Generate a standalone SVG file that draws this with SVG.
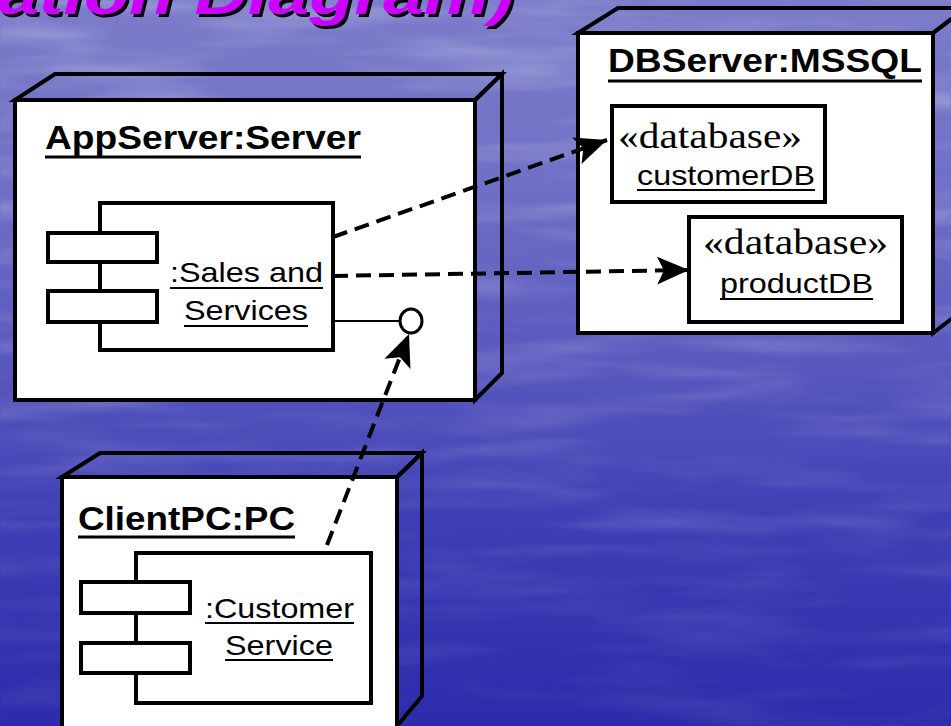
<svg xmlns="http://www.w3.org/2000/svg" width="951" height="726" viewBox="0 0 951 726">
  <defs>
    <linearGradient id="bg" x1="0" y1="0" x2="0" y2="1">
      <stop offset="0" stop-color="#7c7cca"/>
      <stop offset="0.25" stop-color="#7070c6"/>
      <stop offset="0.5" stop-color="#5858be"/>
      <stop offset="0.72" stop-color="#3e3eb5"/>
      <stop offset="1" stop-color="#2c2cac"/>
    </linearGradient>
    <linearGradient id="fade" x1="0" y1="0" x2="0" y2="1">
      <stop offset="0" stop-color="#fff" stop-opacity="1"/>
      <stop offset="0.45" stop-color="#fff" stop-opacity="0.7"/>
      <stop offset="1" stop-color="#fff" stop-opacity="0.25"/>
    </linearGradient>
    <mask id="streak-mask">
      <rect width="951" height="726" fill="url(#fade)"/>
    </mask>
    <filter id="streaks" x="0" y="0" width="100%" height="100%">
      <feTurbulence type="fractalNoise" baseFrequency="0.005 0.045" numOctaves="3" seed="7" result="n"/>
      <feColorMatrix in="n" type="matrix" values="0 0 0 0 1  0 0 0 0 1  0 0 0 0 1  0 0 0 1.4 -0.6"/>
      <feGaussianBlur stdDeviation="1.2"/>
    </filter>
    <marker id="arrow" markerUnits="userSpaceOnUse" markerWidth="36" markerHeight="30" refX="32" refY="14" orient="auto">
      <path d="M0,0 L32,14 L0,28 L7,14 z" fill="#000"/>
    </marker>
    <style>
      .node-front { fill: #fff; stroke: #000; stroke-width: 4; stroke-linejoin: miter; }
      .node-edge { fill: none; stroke: #000; stroke-width: 4; stroke-linejoin: miter; }
      .box { fill: #fff; stroke: #000; stroke-width: 4; }
      .title { font-family: "Liberation Sans", Arial, sans-serif; font-weight: bold; font-size: 33px; fill: #000; }
      .label { font-family: "Liberation Sans", Arial, sans-serif; font-size: 28px; fill: #000; }
      .stereo { font-family: "Liberation Serif", "Times New Roman", serif; font-size: 36px; fill: #000; }
      .ul-bold { stroke: #000; stroke-width: 3; }
      .ul { stroke: #000; stroke-width: 2; }
      .dep { fill: none; stroke: #000; stroke-width: 4; stroke-dasharray: 15 8; marker-end: url(#arrow); }
      .heading { font-family: "Liberation Sans", Arial, sans-serif; font-weight: bold; font-style: italic; font-size: 60px; }
    </style>
  </defs>

  <!-- backdrop -->
  <rect width="951" height="726" fill="url(#bg)"/>
  <g mask="url(#streak-mask)">
    <rect width="951" height="726" filter="url(#streaks)" opacity="0.4"/>
  </g>

  <!-- slide heading, cut off by the top edge -->
  <g id="heading">
    <text class="heading" x="1" y="17" fill="#000" textLength="516" lengthAdjust="spacingAndGlyphs">ation Diagram)</text>
    <text class="heading" x="-2" y="14" fill="#cc00ff" textLength="516" lengthAdjust="spacingAndGlyphs">ation Diagram)</text>
  </g>

  <!-- AppServer node -->
  <g id="appserver">
    <polygon class="node-edge" points="15,100 55,74 502,74 475,100"/>
    <polygon class="node-edge" points="475,100 502,74 502,373 475,400"/>
    <rect class="node-front" x="15" y="100" width="460" height="300"/>
    <text class="title" x="45" y="149" textLength="316" lengthAdjust="spacingAndGlyphs">AppServer:Server</text>
    <line class="ul-bold" x1="45" y1="157" x2="361" y2="157"/>
    <g id="sales-component">
      <rect class="box" x="100" y="203" width="233" height="147"/>
      <rect class="box" x="48" y="233" width="109" height="29"/>
      <rect class="box" x="48" y="291" width="109" height="31"/>
      <text class="label" x="170" y="282" textLength="153" lengthAdjust="spacingAndGlyphs">:Sales and</text>
      <line class="ul" x1="170" y1="288" x2="323" y2="288"/>
      <text class="label" x="184" y="320" textLength="124" lengthAdjust="spacingAndGlyphs">Services</text>
      <line class="ul" x1="184" y1="326" x2="308" y2="326"/>
    </g>
    <g id="sales-interface">
      <line x1="333" y1="321" x2="400" y2="321" stroke="#000" stroke-width="2"/>
      <ellipse cx="411" cy="321" rx="11" ry="12" fill="#fff" stroke="#000" stroke-width="3"/>
    </g>
  </g>

  <!-- DBServer node -->
  <g id="dbserver">
    <polygon class="node-edge" points="578,33 618,8 966,8 933,33"/>
    <polygon class="node-edge" points="933,33 966,8 966,308 933,333"/>
    <rect class="node-front" x="578" y="33" width="355" height="300"/>
    <text class="title" x="608" y="72" font-size="31" textLength="314" lengthAdjust="spacingAndGlyphs">DBServer:MSSQL</text>
    <line class="ul-bold" x1="608" y1="81" x2="922" y2="81"/>
    <g id="customerdb">
      <rect class="box" x="612" y="106" width="213" height="96"/>
      <text class="stereo" x="618" y="148" textLength="184" lengthAdjust="spacingAndGlyphs">«database»</text>
      <text class="label" x="637" y="185" textLength="178" lengthAdjust="spacingAndGlyphs">customerDB</text>
      <line class="ul" x1="637" y1="190" x2="815" y2="190"/>
    </g>
    <g id="productdb">
      <rect class="box" x="689" y="217" width="213" height="105"/>
      <text class="stereo" x="703" y="254" textLength="185" lengthAdjust="spacingAndGlyphs">«database»</text>
      <text class="label" x="720" y="293" textLength="153" lengthAdjust="spacingAndGlyphs">productDB</text>
      <line class="ul" x1="720" y1="299" x2="873" y2="299"/>
    </g>
  </g>

  <!-- ClientPC node -->
  <g id="clientpc">
    <polygon class="node-edge" points="62,477 100,453 422,453 397,477"/>
    <polygon class="node-edge" points="397,477 422,453 422,696 397,726"/>
    <rect class="node-front" x="62" y="477" width="335" height="256"/>
    <text class="title" x="78" y="530" textLength="217" lengthAdjust="spacingAndGlyphs">ClientPC:PC</text>
    <line class="ul-bold" x1="78" y1="537" x2="295" y2="537"/>
    <g id="customer-component">
      <rect class="box" x="136" y="553" width="235" height="150"/>
      <rect class="box" x="81" y="582" width="109" height="31"/>
      <rect class="box" x="81" y="643" width="109" height="30"/>
      <text class="label" x="205" y="618" textLength="149" lengthAdjust="spacingAndGlyphs">:Customer</text>
      <line class="ul" x1="205" y1="623" x2="354" y2="623"/>
      <text class="label" x="225" y="655" textLength="108" lengthAdjust="spacingAndGlyphs">Service</text>
      <line class="ul" x1="225" y1="660" x2="333" y2="660"/>
    </g>
  </g>

  <!-- dependencies -->
  <g id="connectors">
    <line class="dep" x1="333" y1="237" x2="607" y2="140"/>
    <line class="dep" x1="333" y1="276" x2="689" y2="270"/>
    <line class="dep" x1="327" y1="545" x2="409" y2="334"/>
  </g>
</svg>
